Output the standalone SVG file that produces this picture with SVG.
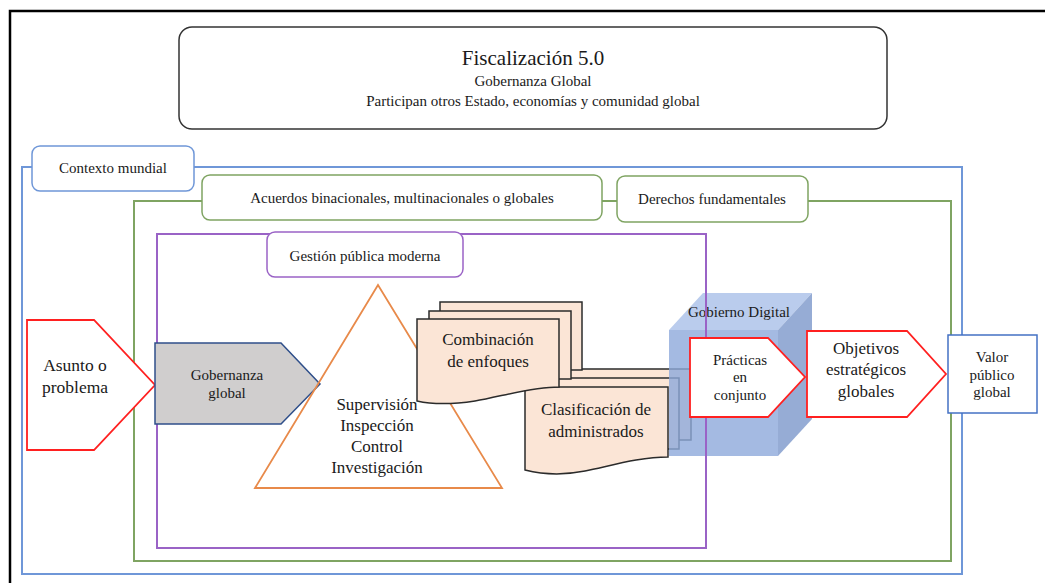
<svg xmlns="http://www.w3.org/2000/svg" width="1045" height="583" viewBox="0 0 1045 583">
<defs>
<path id="doc1" d="M417,319 H559 V387 C530,387 500,397 475,401 C455,404 435,405 417,401 Z"/>
</defs>
<rect x="0" y="0" width="1045" height="583" fill="#fff"/>
<path d="M10,583 V11 H1045" fill="none" stroke="#000" stroke-width="2.5"/>
<g font-family="Liberation Serif" fill="#1a1a1a" text-anchor="middle" font-size="15">
<g id="title">
<rect x="179" y="27" width="708" height="102" rx="13" fill="#fff" stroke="#333" stroke-width="1.5"/>
<text x="533" y="65" font-family="Liberation Serif" font-size="21">Fiscalización 5.0</text>
<text x="533" y="86" font-family="Liberation Serif">Gobernanza Global</text>
<text x="533" y="106" font-family="Liberation Serif">Participan otros Estado, economías y comunidad global</text>
</g>

<g id="clasificacion" fill="#fbe5d6" stroke="#2b2b2b" stroke-width="1.5">
<rect x="547" y="369" width="144" height="71"/>
<rect x="536" y="378" width="143" height="71"/>
<path d="M525,387 H668 V457 C640,457 610,466 585,471 C565,475 545,475 525,470 Z"/>
<text x="596" y="415" font-family="Liberation Serif" font-size="17" fill="#1a1a1a" stroke="none">Clasificación de</text>
<text x="596" y="437" font-family="Liberation Serif" font-size="17" fill="#1a1a1a" stroke="none">administrados</text>
</g>

<g id="gobierno-digital">
<g opacity="0.8">
<polygon points="669,330 703,293 812,293 778,330" fill="#a9c0e9"/>
<polygon points="778,330 812,293 812,419 778,456" fill="#7d98cb"/>
<rect x="669" y="330" width="109" height="126" fill="#8eaadb"/>
</g>
<text x="739" y="317" font-family="Liberation Serif">Gobierno Digital</text>
</g>

<g id="frames" fill="none" stroke-width="2">
<rect x="22" y="167" width="940" height="407" stroke="#6f97d8"/>
<rect x="134" y="201" width="817" height="360" stroke="#7fa462"/>
<rect x="157" y="234" width="549" height="314" stroke="#9a63c6"/>
</g>
<g id="connectors"></g>

<g id="contexto-mundial">
<rect x="32" y="146" width="162" height="45" rx="8" fill="#fff" stroke="#6f97d8" stroke-width="1.5"/>
<text x="113" y="173" font-family="Liberation Serif">Contexto mundial</text>
</g>
<g id="acuerdos">
<rect x="202" y="175" width="400" height="45" rx="8" fill="#fff" stroke="#7fa462" stroke-width="1.5"/>
<text x="402" y="203" font-family="Liberation Serif">Acuerdos binacionales, multinacionales o globales</text>
</g>
<g id="derechos">
<rect x="617" y="176" width="191" height="46" rx="8" fill="#fff" stroke="#7fa462" stroke-width="1.5"/>
<text x="712" y="204" font-family="Liberation Serif">Derechos fundamentales</text>
</g>
<g id="gestion">
<rect x="267" y="232" width="196" height="45" rx="8" fill="#fff" stroke="#9a63c6" stroke-width="1.5"/>
<text x="365" y="261" font-family="Liberation Serif">Gestión pública moderna</text>
</g>

<g id="asunto">
<polygon points="27,320 94,320 155,385 94,450 27,450" fill="#fff" stroke="#ff2020" stroke-width="1.8"/>
<text x="75" y="371" font-family="Liberation Serif" font-size="17.5">Asunto o</text>
<text x="75" y="393" font-family="Liberation Serif" font-size="17.5">problema</text>
</g>

<g id="gobernanza">
<polygon points="155,343 281,343 320,384 281,424 155,424" fill="#d0cece" stroke="#2f4f8a" stroke-width="1.5"/>
<text x="227" y="380" font-family="Liberation Serif">Gobernanza</text>
<text x="227" y="398" font-family="Liberation Serif">global</text>
</g>

<g id="triangulo" font-size="17">
<polygon points="378,285 255,488 502,488" fill="none" stroke="#e88a4a" stroke-width="1.8"/>
<text x="377" y="410" font-family="Liberation Serif">Supervisión</text>
<text x="377" y="431" font-family="Liberation Serif">Inspección</text>
<text x="377" y="452" font-family="Liberation Serif">Control</text>
<text x="377" y="473" font-family="Liberation Serif">Investigación</text>
</g>

<g id="combinacion" fill="#fbe5d6" stroke="#2b2b2b" stroke-width="1.5">
<rect x="440" y="302" width="142" height="68"/>
<rect x="429" y="311" width="142" height="68"/>
<use href="#doc1"/>
<text x="488" y="345" font-family="Liberation Serif" font-size="17" fill="#1a1a1a" stroke="none">Combinación</text>
<text x="488" y="367" font-family="Liberation Serif" font-size="17" fill="#1a1a1a" stroke="none">de enfoques</text>
</g>

<g id="practicas">
<polygon points="690,338 768,338 805,377 768,417 690,417" fill="#fff" stroke="#ff2020" stroke-width="1.8"/>
<text x="740" y="365" font-family="Liberation Serif">Prácticas</text>
<text x="740" y="382" font-family="Liberation Serif">en</text>
<text x="740" y="400" font-family="Liberation Serif">conjunto</text>
</g>

<g id="objetivos" font-size="17">
<polygon points="807,331 907,331 946,374 907,417 807,417" fill="#fff" stroke="#ff2020" stroke-width="1.8"/>
<text x="866" y="354" font-family="Liberation Serif">Objetivos</text>
<text x="866" y="375" font-family="Liberation Serif">estratégicos</text>
<text x="866" y="397" font-family="Liberation Serif">globales</text>
</g>

<g id="valor">
<rect x="948" y="335" width="89" height="78" fill="#fff" stroke="#4472c4" stroke-width="1.5"/>
<text x="992" y="362" font-family="Liberation Serif">Valor</text>
<text x="992" y="380" font-family="Liberation Serif">público</text>
<text x="992" y="397" font-family="Liberation Serif">global</text>
</g>
</g>
</svg>
